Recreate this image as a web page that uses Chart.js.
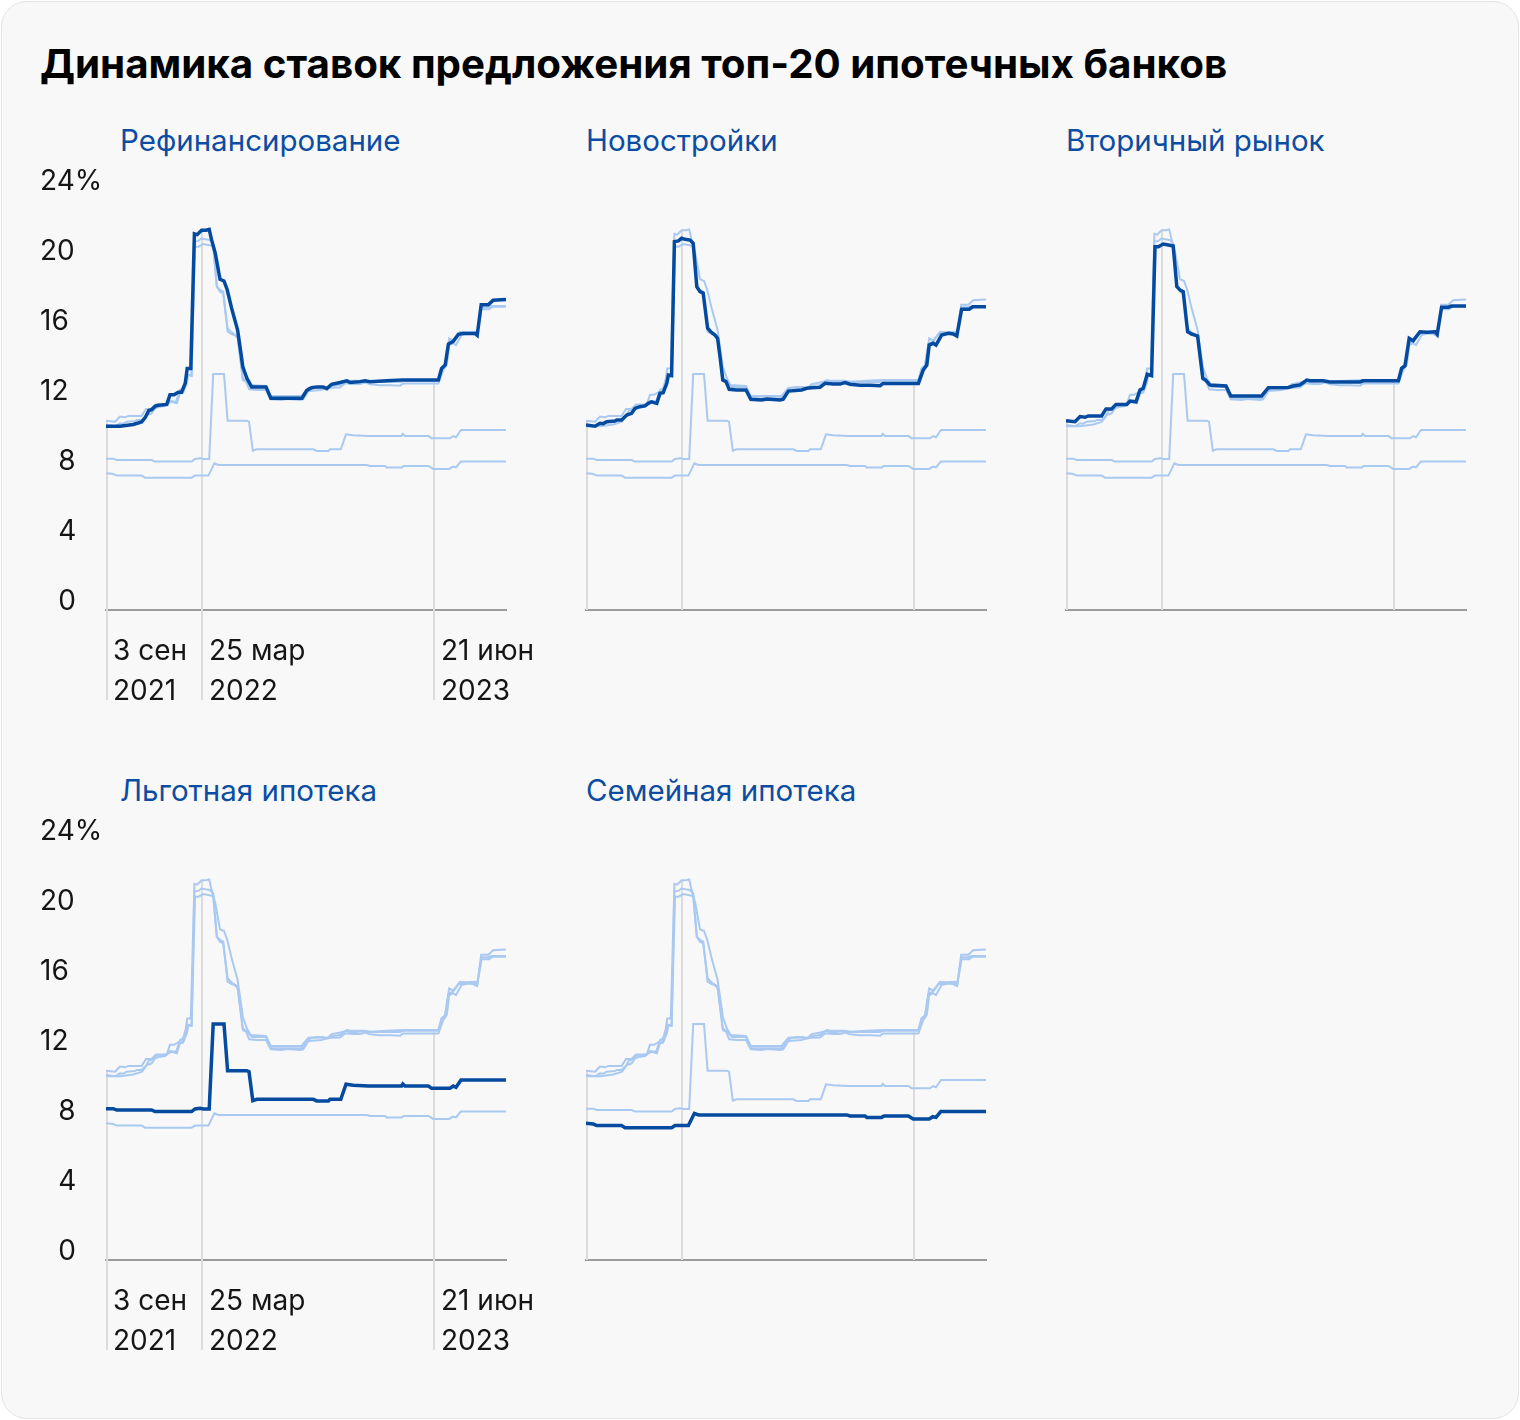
<!DOCTYPE html>
<html lang="ru">
<head>
<meta charset="utf-8">
<script src="https://cdn.jsdelivr.net/npm/chart.js@4"></script>
<style>
  html, body { margin:0; padding:0; background:#fff; }
  body { width:1520px; height:1420px; position:relative; font-family:Inter, Roboto, sans-serif; }
  .card { position:absolute; left:1px; top:1px; width:1516px; height:1416px; background:#f8f8f8; border:1px solid #e4e4e4; border-radius:26px; }
  .title { position:absolute; left:40px; top:40px; font-size:40.3px; font-weight:700; color:#000; line-height:48px; white-space:nowrap; }
  .sub { position:absolute; font-size:29.5px; color:#0b4da2; line-height:34px; white-space:nowrap; }
  .panel { position:absolute; width:530px; height:550px; }
</style>
</head>
<body>
<div class="card"></div>
<div class="title">Динамика ставок предложения топ-20 ипотечных банков</div>
<div class="sub" style="left:120px;top:123px">Рефинансирование</div>
<div class="sub" style="left:586px;top:123px">Новостройки</div>
<div class="sub" style="left:1066px;top:123px">Вторичный рынок</div>
<div class="sub" style="left:120px;top:773px">Льготная ипотека</div>
<div class="sub" style="left:586px;top:773px">Семейная ипотека</div>
<div class="panel" style="left:30px;top:160px"><canvas id="c0"></canvas></div>
<div class="panel" style="left:510px;top:160px"><canvas id="c1"></canvas></div>
<div class="panel" style="left:990px;top:160px"><canvas id="c2"></canvas></div>
<div class="panel" style="left:30px;top:810px"><canvas id="c3"></canvas></div>
<div class="panel" style="left:510px;top:810px"><canvas id="c4"></canvas></div>
<script>
// x = номер недели от 3 сен 2021, y = ставка, %
const tickWeeks = [0, 24, 82];
const tickLabels = [["3 сен", "2021"], ["25 мар", "2022"], ["21 июн", "2023"]];
const yTicks = [0, 4, 8, 12, 16, 20, 24];

const refi = [[0,10.5],[3.5,10.5],[6.8,10.6],[8.9,10.75],[9.8,11.0],[10.7,11.4],[11.4,11.45],[12.3,11.65],[13.1,11.7],[15.2,11.75],[16,12.3],[17,12.3],[18.1,12.45],[18.9,12.45],[19.8,12.95],[20.3,13.8],[21.2,13.8],[22.1,21.5],[22.8,21.45],[23.9,21.7],[25,21.7],[25.8,21.75],[26.4,21.15],[27.3,20.4],[28.5,18.9],[29.5,18.8],[30.3,18.3],[31.4,17.25],[32.9,16.0],[33.5,15.05],[34.2,13.9],[35.2,13.25],[36.4,12.75],[40,12.75],[41.2,12.1],[49,12.1],[50.2,12.55],[51.4,12.7],[52.7,12.75],[54.3,12.75],[55.2,12.65],[56.4,12.9],[58.5,13.0],[60.2,13.1],[61,13.0],[63.5,13.05],[64.8,13.1],[66,13.05],[70.2,13.1],[74.3,13.15],[83.1,13.15],[83.9,13.8],[84.8,14.0],[85.6,15.2],[86.8,15.35],[88.1,15.75],[89.3,15.8],[92.3,15.8],[92.8,15.7],[93.8,17.45],[95.6,17.45],[96.8,17.7],[100,17.75]];

const newBuild = [[0,10.57],[2.25,10.5],[3.5,10.67],[4.3,10.65],[5.2,10.76],[7.25,10.8],[7.7,10.86],[8.9,10.86],[10.2,11.14],[11.4,11.24],[12.25,11.52],[13.5,11.62],[14.75,11.66],[15.6,11.81],[16.4,11.9],[17.7,11.81],[18.5,12.38],[19.3,12.42],[20.2,12.95],[20.6,13.43],[21.4,13.39],[22.1,21.05],[23.1,21.09],[23.9,21.24],[24.75,21.18],[26,21.14],[26.8,20.95],[27.7,18.48],[28.5,18.19],[29.3,18.1],[30.4,16.1],[31.2,15.9],[32.25,15.71],[32.9,15.52],[33.5,14.48],[34.2,13.14],[35,13.05],[35.8,12.61],[37.7,12.57],[40,12.57],[41.2,12.04],[43.9,12.0],[45.2,12.06],[48.5,12.0],[49.3,12.04],[50.6,12.51],[53.9,12.57],[55.2,12.67],[56.4,12.7],[58.5,12.72],[59.75,12.95],[61.8,12.91],[63.5,12.91],[64.75,13.0],[66,12.9],[68.5,12.84],[71,12.84],[73.5,12.82],[74.3,12.95],[83.1,12.95],[84.3,13.71],[85.2,14.0],[85.8,15.14],[86.8,15.24],[87.5,15.14],[88.9,15.71],[90.6,15.81],[91.8,15.77],[92.7,15.66],[93.9,17.19],[95.8,17.19],[96.7,17.33],[100,17.33]];

const secondary = [[0,10.82],[2.25,10.76],[3.5,11.05],[4.75,11.01],[5.6,11.09],[8.9,11.09],[10,11.49],[11.4,11.49],[12.5,11.75],[15.2,11.75],[16,11.94],[17.5,11.9],[18.5,12.57],[19.3,12.67],[20.3,13.47],[21.4,13.39],[22.25,20.76],[23.1,20.76],[24.3,20.91],[25.6,20.86],[26.8,20.8],[27.7,18.48],[28.5,18.29],[29.3,18.19],[30.4,15.9],[31.4,15.77],[32.9,15.66],[34.2,13.24],[34.9,13.14],[36,12.86],[40,12.8],[41.2,12.23],[48.9,12.23],[50.6,12.7],[55.6,12.72],[56.8,12.8],[58.5,12.86],[60.2,13.14],[61,13.1],[64.3,13.1],[66,13.03],[73.5,13.03],[74.3,13.1],[83.1,13.1],[83.9,13.81],[84.75,13.96],[85.8,15.52],[86.8,15.39],[88.5,15.9],[90.2,15.87],[92.25,15.9],[92.8,15.75],[93.9,17.3],[95.6,17.3],[96.4,17.37],[100,17.37]];

const preferential = [[0,8.65],[1.8,8.65],[2.7,8.57],[11.4,8.57],[12.25,8.48],[21.4,8.48],[22.25,8.63],[23.5,8.67],[24.3,8.63],[25.8,8.63],[26.8,13.49],[29.5,13.49],[30.4,10.82],[35.2,10.82],[35.75,10.76],[36.7,9.1],[37.7,9.18],[51.8,9.18],[52.7,9.09],[55.6,9.09],[56,9.18],[58.7,9.18],[60,10.04],[61.8,9.98],[65.6,9.94],[73.9,9.94],[74.2,10.06],[74.75,9.94],[80.6,9.94],[81.4,9.81],[86,9.81],[86.8,9.94],[87.5,9.87],[88.75,10.29],[100,10.29]];

const family = [[0,7.81],[1.8,7.77],[2.7,7.68],[8.9,7.68],[9.75,7.56],[21.4,7.56],[22.25,7.68],[25.6,7.68],[27.1,8.38],[28.1,8.29],[65.2,8.29],[66,8.23],[69.75,8.23],[70.2,8.15],[73.9,8.15],[74.5,8.23],[80.6,8.23],[81.8,8.06],[85.8,8.06],[86.7,8.19],[87.5,8.15],[88.7,8.48],[100,8.48]];

const seriesList = [refi, newBuild, secondary, preferential, family];
const DARK = "#044a9f";
const LIGHT = "#a9c9f1";
const TEXT = "#151515";

function valueAt(pts, w){
  for(let i=1;i<pts.length;i++){
    if(w <= pts[i][0]){
      const [x0,y0] = pts[i-1], [x1,y1] = pts[i];
      return x1 === x0 ? y1 : y0 + (y1-y0)*(w-x0)/(x1-x0);
    }
  }
  return pts[pts.length-1][1];
}

// вертикальные линии от верхней линии вниз до подписей
const dropLines = {
  id: "dropLines",
  beforeDatasetsDraw(chart, args, opts){
    const {ctx, chartArea, scales:{x, y}} = chart;
    ctx.save();
    ctx.strokeStyle = "#dcdcdc";
    ctx.lineWidth = 2;
    for(const w of tickWeeks){
      const top = Math.max(...seriesList.map(s => valueAt(s, w)));
      const px = Math.round(x.getPixelForValue(w)) + (w === 0 ? 1 : 0);
      ctx.beginPath();
      ctx.moveTo(px, y.getPixelForValue(top));
      ctx.lineTo(px, chartArea.bottom + (opts.labels ? 90 : 0));
      ctx.stroke();
    }
    ctx.restore();
  }
};

function makePanel(id, hi, showY, showX){
  const font = { family: "Inter", size: 28 };
  new Chart(document.getElementById(id), {
    type: "line",
    data: {
      datasets: seriesList.map((s, i) => ({
        data: s.map(p => ({ x: p[0], y: p[1] })),
        borderColor: i === hi ? DARK : LIGHT,
        borderWidth: i === hi ? 3.5 : 2,
        pointRadius: 0,
        tension: 0,
        order: i === hi ? 0 : 1
      }))
    },
    options: {
      responsive: true,
      maintainAspectRatio: false,
      animation: false,
      layout: { padding: { left: 10, top: 30, right: 54, bottom: 0 } },
      plugins: { legend: { display: false }, tooltip: { enabled: false }, dropLines: { labels: showX } },
      scales: {
        x: {
          type: "linear", min: 0, max: 100,
          afterBuildTicks: s => { s.ticks = tickWeeks.map(v => ({ value: v })); },
          afterFit: s => { s.height = 100; },
          grid: { display: false, drawTicks: false },
          border: { display: true, color: "#9b9b9b", width: 2 },
          ticks: {
            display: showX, autoSkip: false, maxRotation: 0, align: "start",
            labelOffset: 7, padding: 22, color: TEXT,
            font: { ...font, lineHeight: 40 / 28 },
            callback: v => tickLabels[tickWeeks.indexOf(v)]
          }
        },
        y: {
          min: 0, max: 24,
          afterBuildTicks: s => { s.ticks = yTicks.map(v => ({ value: v })); },
          afterFit: s => { s.width = 66; },
          grid: { display: false, drawTicks: false },
          border: { display: false },
          ticks: {
            display: showY, crossAlign: "far", labelOffset: -8, color: TEXT, font,
            callback: v => v === 24 ? "24%" : (v < 10 ? "\u2007" + v : String(v))
          }
        }
      }
    },
    plugins: [dropLines]
  });
}

document.fonts.load("28px Inter").then(() => {
  makePanel("c0", 0, true, true);
  makePanel("c1", 1, false, false);
  makePanel("c2", 2, false, false);
  makePanel("c3", 3, true, true);
  makePanel("c4", 4, false, false);
});
</script>
</body>
</html>
